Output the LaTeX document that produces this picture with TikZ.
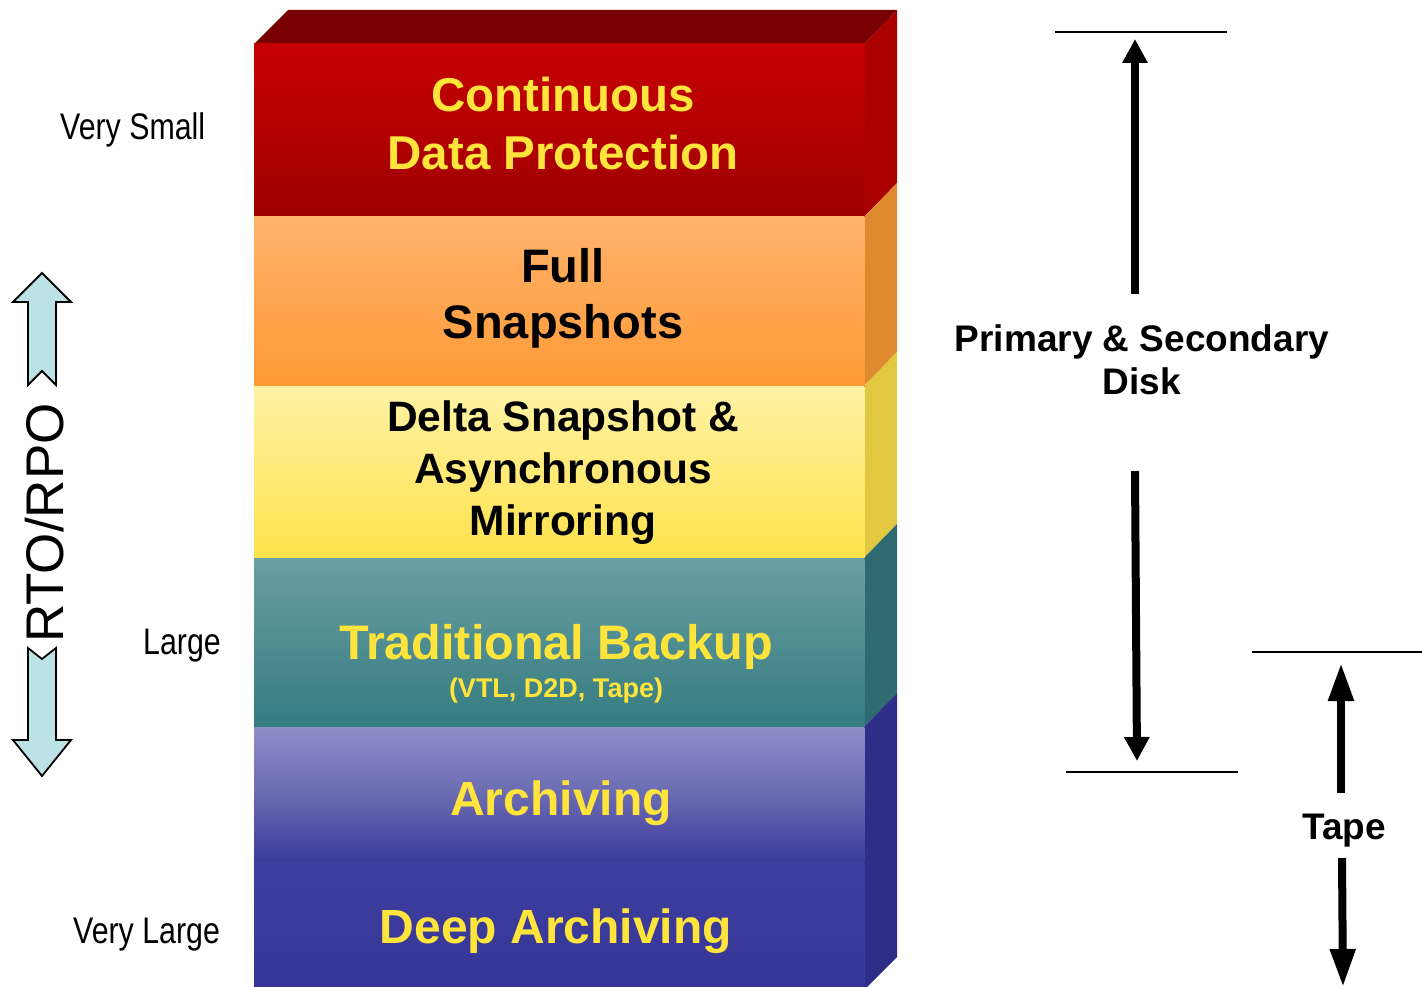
\documentclass[tikz,border=0pt]{standalone}
\usepackage{fontspec}
\setmainfont{Liberation Sans}
\newfontfamily\narrowfont[FakeStretch=0.82]{Liberation Sans}
\usetikzlibrary{arrows.meta}

% layer colours
\definecolor{cdpTop}{HTML}{C60000}
\definecolor{cdpBot}{HTML}{9C0000}
\definecolor{cdpSide}{HTML}{AA0000}
\definecolor{cdpLid}{HTML}{780000}
\definecolor{fullTop}{HTML}{FFB26C}
\definecolor{fullBot}{HTML}{FF9A35}
\definecolor{fullSide}{HTML}{E08A30}
\definecolor{deltaTop}{HTML}{FFF2A6}
\definecolor{deltaBot}{HTML}{FFE24A}
\definecolor{deltaSide}{HTML}{E2C840}
\definecolor{tradTop}{HTML}{6A9EA2}
\definecolor{tradBot}{HTML}{347C80}
\definecolor{tradSide}{HTML}{2E6A70}
\definecolor{archTop}{HTML}{8E8EC8}
\definecolor{archMid}{HTML}{6A6AB2}
\definecolor{archBot}{HTML}{3A3A9C}
\definecolor{deepTop}{HTML}{3E3E9E}
\definecolor{deepBot}{HTML}{363698}
\definecolor{blueSide}{HTML}{2E2E88}
\definecolor{labelYellow}{HTML}{FFE43C}
\definecolor{rtoFill}{HTML}{BCE2E6}

\begin{document}
\begin{tikzpicture}[x=1pt,y=-1pt,
  ytext/.style={text=labelYellow, align=center, inner sep=0pt},
  btext/.style={text=black, align=center, inner sep=0pt},
  scalelabel/.style={font=\narrowfont\fontsize{37}{44}\selectfont, inner sep=0pt, anchor=base west},
  rangeline/.style={line width=2.5pt},
  diskarrow/.style={line width=8pt, -{Triangle[width=24pt,length=24pt]}},
  tapearrow/.style={line width=8pt, -{Triangle[width=24pt,length=38pt]}},
  rtoarrow/.style={draw=black, line width=1.8pt, fill=rtoFill, line join=miter}
]
\useasboundingbox (0,0) rectangle (1422,987);
\fill[white] (0,0) rectangle (1422,987);

% ---- side facets of the stack ----
\fill[cdpSide]   (864,44)  -- (897,10)  -- (897,183) -- (864,217) -- cycle;
\fill[fullSide]  (864,217) -- (897,183) -- (897,352) -- (864,386) -- cycle;
\fill[deltaSide] (864,386) -- (897,352) -- (897,524) -- (864,558) -- cycle;
\fill[tradSide]  (864,558) -- (897,524) -- (897,693) -- (864,727) -- cycle;
\fill[blueSide]  (864,727) -- (897,693) -- (897,957) -- (864,990) -- cycle;

% ---- lid ----
\fill[cdpLid] (254,44) -- (288,10) -- (897,10) -- (864,44) -- cycle;

% ---- front faces ----
\fill[top color=cdpTop, bottom color=cdpBot, middle color=cdpTop!55!cdpBot]
  (254,44) rectangle (864.5,217.5);
\fill[top color=fullTop, bottom color=fullBot] (254,217) rectangle (864.5,386.5);
\fill[top color=deltaTop, bottom color=deltaBot] (254,386) rectangle (864.5,558.5);
\fill[top color=tradTop, bottom color=tradBot] (254,558) rectangle (864.5,727.5);
\fill[top color=archTop, bottom color=archBot, middle color=archMid]
  (254,727) rectangle (864.5,862.5);
\fill[top color=deepTop, bottom color=deepBot] (254,862) rectangle (864.5,990);

% ---- layer titles ----
\node[ytext, font=\bfseries\fontsize{47.5}{58}\selectfont] (cdp) at (563,124)
  {Continuous\\Data Protection};
\node[btext, font=\bfseries\fontsize{47}{56}\selectfont] (full) at (563,298)
  {Full\\Snapshots};
\node[btext, font=\bfseries\fontsize{42.5}{52}\selectfont] (delta) at (563,473)
  {Delta Snapshot \&\\Asynchronous\\Mirroring};
\node[ytext, font=\bfseries\fontsize{48.5}{56}\selectfont, anchor=base] (trad) at (556,659)
  {Traditional Backup};
\node[ytext, font=\bfseries\fontsize{27}{32}\selectfont, anchor=base] (tradsub) at (556,697)
  {(VTL, D2D, Tape)};
\node[ytext, font=\bfseries\fontsize{48}{56}\selectfont, anchor=base] (arch) at (561,815)
  {Archiving};
\node[ytext, font=\bfseries\fontsize{48}{56}\selectfont, anchor=base] (deep) at (556,943)
  {Deep Archiving};

% ---- RTO/RPO scale on the left ----
\node[scalelabel] (vsmall) at (60,140) {Very Small};
\node[scalelabel] (large)  at (143,654) {Large};
\node[scalelabel] (vlarge) at (73,943) {Very Large};

\node[font=\fontsize{53}{62}\selectfont, rotate=90, inner sep=0pt] (rto) at (45,523) {RTO/RPO};

\draw[rtoarrow] (42,273) -- (71,302) -- (56,302) -- (56,385) -- (42,371)
  -- (28,385) -- (28,302) -- (13,302) -- cycle;
\draw[rtoarrow] (28,648) -- (42,659) -- (56,648) -- (56,740) -- (71,740)
  -- (42,776) -- (13,740) -- (28,740) -- cycle;

% ---- storage ranges on the right ----
\node[btext, font=\bfseries\fontsize{37}{43}\selectfont] (disk) at (1142,360)
  {Primary \& Secondary\\Disk};
\node[btext, font=\bfseries\fontsize{37}{43}\selectfont, anchor=base] (tape) at (1344,839)
  {Tape};

\coordinate (diskTopL) at (1055,32);
\coordinate (diskTopR) at (1227,32);
\coordinate (diskBotL) at (1066,772);
\coordinate (diskBotR) at (1238,772);
\coordinate (tapeTopL) at (1252,652);
\coordinate (tapeTopR) at (1422,652);

\coordinate (diskUpFrom)   at (1135,294);
\coordinate (diskUpTo)     at (1135,39);
\coordinate (diskDownFrom) at (1135,471);
\coordinate (diskDownTo)   at (1137,761);
\coordinate (tapeUpFrom)   at (1341,793);
\coordinate (tapeUpTo)     at (1341,663);
\coordinate (tapeDownFrom) at (1342,858);
\coordinate (tapeDownTo)   at (1343,987);

\draw[rangeline] (diskTopL) -- (diskTopR);
\draw[rangeline] (diskBotL) -- (diskBotR);
\draw[rangeline] (tapeTopL) -- (tapeTopR);

\draw[diskarrow] (diskUpFrom) -- (diskUpTo);
\draw[diskarrow] (diskDownFrom) -- (diskDownTo);
\draw[tapearrow] (tapeUpFrom) -- (tapeUpTo);
\draw[tapearrow] (tapeDownFrom) -- (tapeDownTo);
\end{tikzpicture}
\end{document}
